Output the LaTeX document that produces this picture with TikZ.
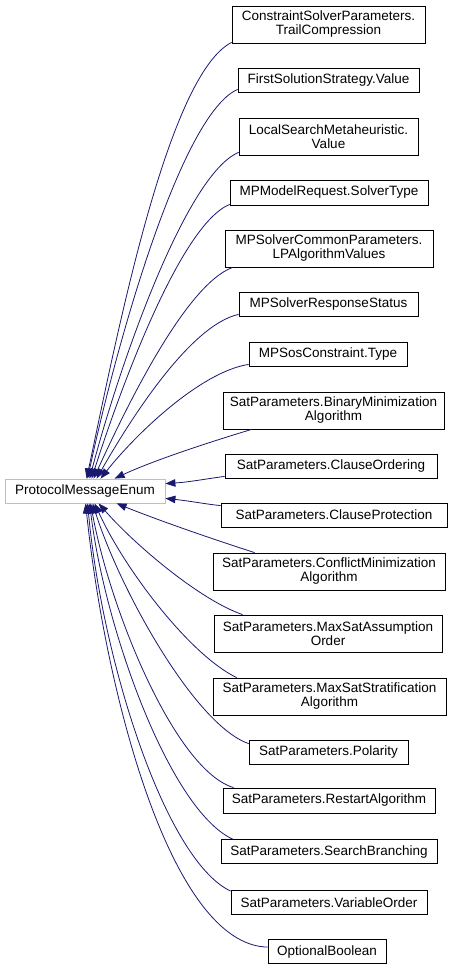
\documentclass[tikz,border=0pt]{standalone}
\usepackage{fontspec}
\setmainfont{Liberation Sans}
\usetikzlibrary{arrows.meta}
\definecolor{edgeblue}{HTML}{191970}
\definecolor{graybd}{HTML}{BFBFBF}
\begin{document}
\begin{tikzpicture}[x=1pt,y=-1pt,
  box/.style={draw=black, line width=0.8pt, fill=white, inner sep=0pt, align=center,
    font=\fontsize{13.5}{14}\selectfont},
  rootbox/.style={box, draw=graybd},
  edge/.style={draw=edgeblue, line width=0.8pt, -{Triangle[length=10pt,width=7.5pt]}}]
\useasboundingbox (0,0) rectangle (450,968);
\fill[white] (0,0) rectangle (450,968);

\node[rootbox, minimum width=160pt, minimum height=24pt] (pe) at (85,491) {ProtocolMessageEnum};

\node[box, minimum width=193pt, minimum height=37pt] (n1) at (328.5,24.5) {ConstraintSolverParameters.\\TrailCompression};
\node[box, minimum width=181pt, minimum height=24pt] (n2) at (328.5,80) {FirstSolutionStrategy.Value};
\node[box, minimum width=179pt, minimum height=37pt] (n3) at (328.5,136.5) {LocalSearchMetaheuristic.\\Value};
\node[box, minimum width=198pt, minimum height=25pt] (n4) at (329,192.5) {MPModelRequest.SolverType};
\node[box, minimum width=208pt, minimum height=37pt] (n5) at (329,248.5) {MPSolverCommonParameters.\\LPAlgorithmValues};
\node[box, minimum width=179pt, minimum height=24pt] (n6) at (328.5,304) {MPSolverResponseStatus};
\node[box, minimum width=158pt, minimum height=24pt] (n7) at (328,354) {MPSosConstraint.Type};
\node[box, minimum width=221pt, minimum height=37pt] (n8) at (333.5,410.5) {SatParameters.BinaryMinimization\\Algorithm};
\node[box, minimum width=212pt, minimum height=24pt] (n9) at (331,466) {SatParameters.ClauseOrdering};
\node[box, minimum width=226pt, minimum height=24pt] (n10) at (334,515) {SatParameters.ClauseProtection};
\node[box, minimum width=232pt, minimum height=37pt] (n11) at (329,571.5) {SatParameters.ConflictMinimization\\Algorithm};
\node[box, minimum width=228pt, minimum height=37pt] (n12) at (328,633.5) {SatParameters.MaxSatAssumption\\Order};
\node[box, minimum width=233pt, minimum height=37pt] (n13) at (329.5,696.5) {SatParameters.MaxSatStratification\\Algorithm};
\node[box, minimum width=159pt, minimum height=24pt] (n14) at (328.5,752) {SatParameters.Polarity};
\node[box, minimum width=212pt, minimum height=25pt] (n15) at (329,800.5) {SatParameters.RestartAlgorithm};
\node[box, minimum width=216pt, minimum height=24pt] (n16) at (329,851.5) {SatParameters.SearchBranching};
\node[box, minimum width=196pt, minimum height=24pt] (n17) at (329,902.5) {SatParameters.VariableOrder};
\node[box, minimum width=118pt, minimum height=24pt] (n18) at (327,951.5) {OptionalBoolean};

% edges to top of root
\draw[edge] ([yshift=1pt]n1.south west) .. controls (168,75) and (118,330) .. ([xshift=82pt]pe.north west);
\draw[edge] ([yshift=3pt]n2.south west) .. controls (180,115) and (115,350) .. ([xshift=83pt]pe.north west);
\draw[edge] ([yshift=3pt]n3.south west) .. controls (185,175) and (118,370) .. ([xshift=85pt]pe.north west);
\draw[edge] ([yshift=1pt]n4.south west) .. controls (180,225) and (120,390) .. ([xshift=87pt]pe.north west);
\draw[edge] ([xshift=8pt]n5.south west) .. controls (185,285) and (125,410) .. ([xshift=89pt]pe.north west);
\draw[edge] ([yshift=2pt]n6.south west) .. controls (190,325) and (130,420) .. ([xshift=92pt]pe.north west);
\draw[edge] ([yshift=2pt]n7.south west) .. controls (200,372) and (135,435) .. ([xshift=96pt]pe.north west);
\draw[edge] ([xshift=29pt]n8.south west) .. controls (200,445) and (150,462) .. ([xshift=110pt]pe.north west);
% edges to right side of root
\draw[edge] ([yshift=2pt]n9.south west) .. controls (205,479) and (190,482) .. ([yshift=-5pt]pe.north east);
\draw[edge] ([yshift=-3pt]n10.north west) .. controls (205,504) and (190,501) .. ([yshift=5pt]pe.south east);
% edges to bottom of root
\draw[edge] ([xshift=42pt]n11.north west) .. controls (200,535) and (150,517) .. ([xshift=112pt]pe.south west);
\draw[edge] ([xshift=29pt]n12.north west) .. controls (200,600) and (135,545) .. ([xshift=94pt]pe.south west);
\draw[edge] ([xshift=24pt]n13.north west) .. controls (190,655) and (125,570) .. ([xshift=90pt]pe.south west);
\draw[edge] ([yshift=-4pt]n14.north west) .. controls (195,725) and (120,590) .. ([xshift=88pt]pe.south west);
\draw[edge] ([xshift=11pt]n15.north west) .. controls (175,770) and (110,610) .. ([xshift=86pt]pe.south west);
\draw[edge] ([xshift=12pt]n16.north west) .. controls (170,810) and (105,630) .. ([xshift=85pt]pe.south west);
\draw[edge] ([yshift=-1pt]n17.north west) .. controls (165,860) and (102,660) .. ([xshift=83pt]pe.south west);
\draw[edge] ([yshift=-8pt]n18.north west) .. controls (170,945) and (105,690) .. ([xshift=81pt]pe.south west);
\end{tikzpicture}
\end{document}
